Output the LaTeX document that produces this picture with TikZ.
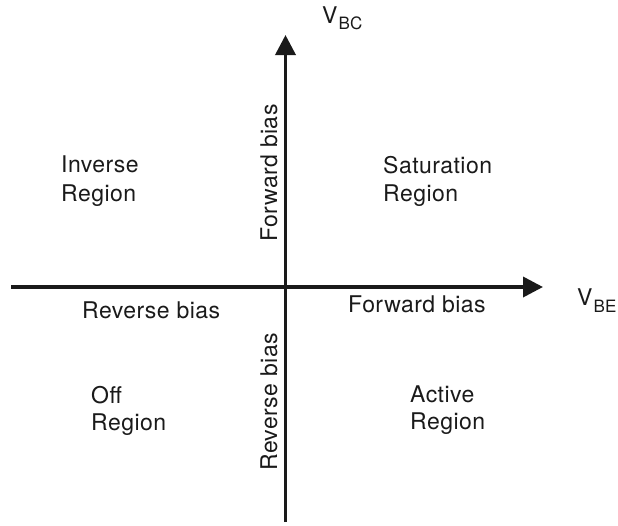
\documentclass[tikz,border=0pt]{standalone}
\usepackage{fontspec}
\setmainfont[LetterSpace=2]{TeX Gyre Heros}
\usetikzlibrary{arrows.meta}
\definecolor{ink}{HTML}{1A1A1A}
\tikzset{
  axis/.style={draw=ink, line width=3.6pt, -{Triangle[length=20pt,width=20pt]}},
  lbl/.style={inner sep=0pt, text=ink, font=\fontsize{23}{28.5}\selectfont},
  region/.style={lbl, align=left, anchor=north west},
}
\begin{document}
\begin{tikzpicture}[x=1pt,y=-1pt]
\useasboundingbox (0,0) rectangle (618,525);
\coordinate (hL) at (11,287);
\coordinate (hR) at (543,287);
\coordinate (vB) at (285.5,522);
\coordinate (vT) at (285.5,35);
\draw[axis] (hL) -- (hR);
\draw[axis] (vB) -- (vT);

\node[lbl, anchor=base west] (vbc) at (322,23) {V\kern1pt\raisebox{-6pt}{\fontsize{17}{17}\selectfont BC}};
\node[lbl, anchor=base west] (vbe) at (577,305) {V\kern1pt\raisebox{-7pt}{\fontsize{17}{17}\selectfont BE}};

\node[region] (inv) at (61,156) {Inverse\\Region};
\node[region] (sat) at (383,156) {Saturation\\Region};
\node[region, font=\fontsize{23}{27}\selectfont] (off) at (91,386) {Off\\Region};
\node[region, font=\fontsize{23}{27}\selectfont] (act) at (410,386) {Active\\Region};

\node[lbl, anchor=base west] (rbh) at (82,318) {Reverse bias};
\node[lbl, anchor=base west] (fbh) at (348,312) {Forward bias};
\node[lbl, anchor=base west, rotate=90] (fbv) at (277,242) {Forward bias};
\node[lbl, anchor=base west, rotate=90] (rbv) at (277,471) {Reverse bias};
\end{tikzpicture}
\end{document}
